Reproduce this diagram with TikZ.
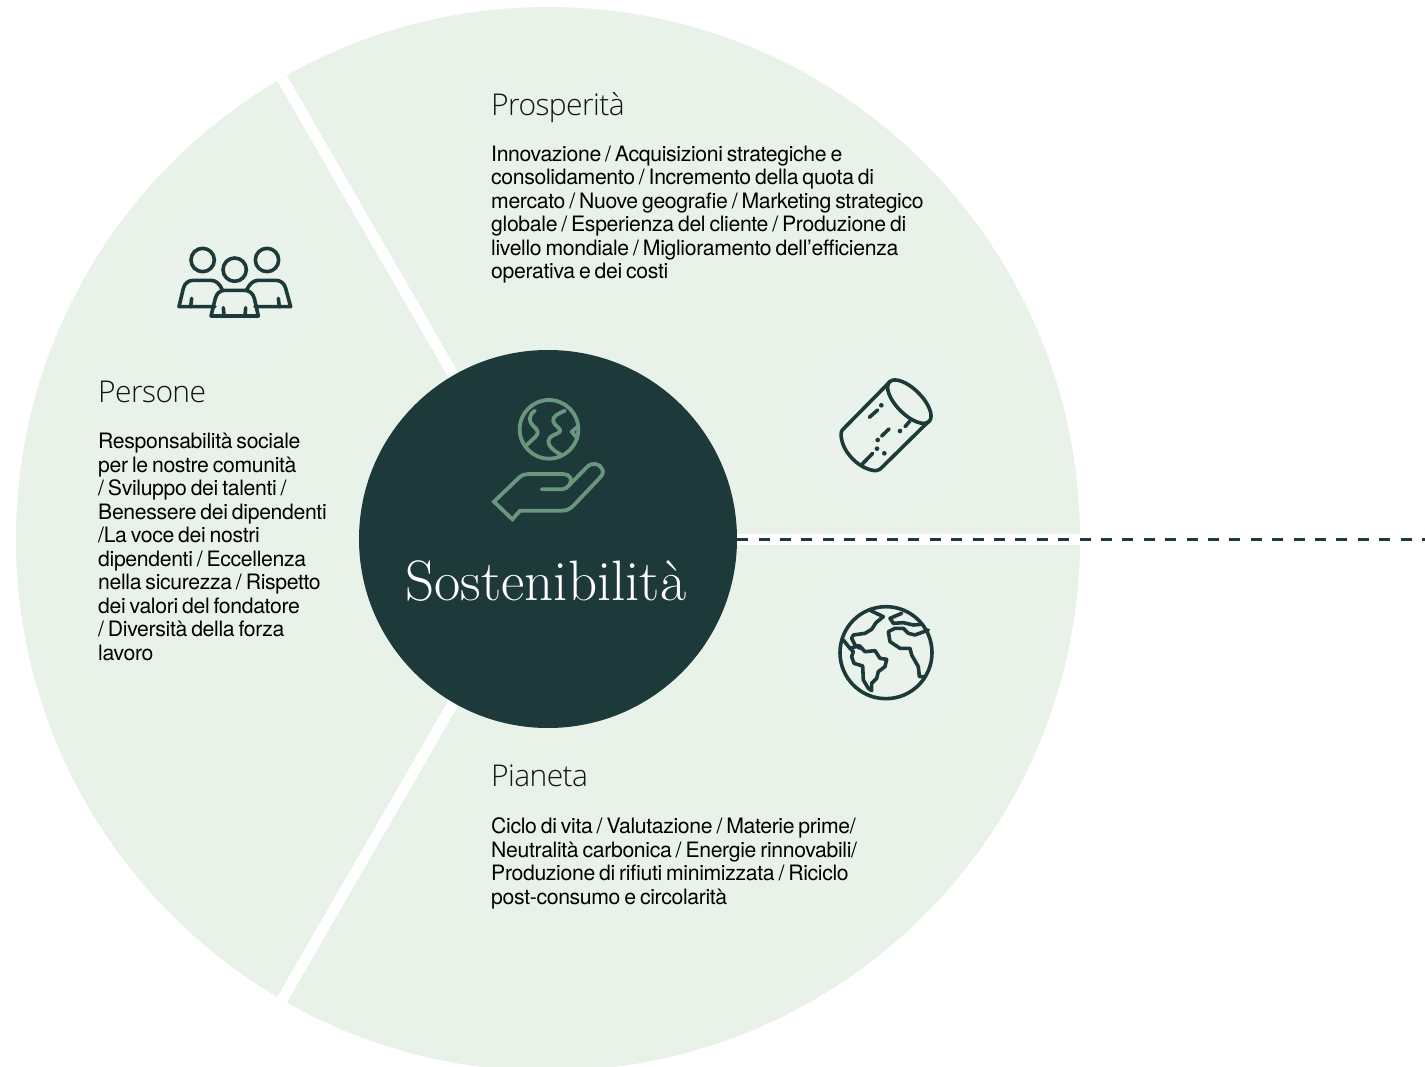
\documentclass[tikz,border=0pt]{standalone}
\usepackage{fontspec}
\setmainfont{TeX Gyre Heros}[WordSpace=0.7,LetterSpace=-1.6]
\newfontfamily\headfont{Open Sans Light}[LetterSpace=-2]
\newfontfamily\corefont{Latin Modern Roman}
\definecolor{wedge}{HTML}{E8F2E8}
\definecolor{halo}{HTML}{E9F3EB}
\definecolor{ink}{HTML}{1D393A}
\definecolor{sage}{HTML}{6A9680}
\tikzset{
  x=1pt,y=-1pt,
  head/.style={anchor=base west,inner sep=0pt,text=ink!40!black,font=\headfont\fontsize{30}{34}\selectfont},
  body/.style={anchor=base west,inner sep=0pt,align=left,text=black,font=\fontsize{21.2}{23.5}\selectfont},
  corecircle/.style={circle,fill=ink,minimum size=378pt,inner sep=0pt},
  corelabel/.style={inner sep=0pt,anchor=base,text=white,font=\corefont\fontsize{57}{60}\selectfont},
  sep/.style={white,line width=11pt},
  dashline/.style={ink,line width=3pt,dash pattern=on 11pt off 10.4pt},
  icon/.style={ink,line width=3.6pt,line join=round,line cap=round},
  handicon/.style={sage,line width=3.8pt,line join=round,line cap=round},
}
\begin{document}
\begin{tikzpicture}
\useasboundingbox (0,0) rectangle (1425,1067);
\clip (0,0) rectangle (1425,1067);
\coordinate (c) at (548,539);
\fill[wedge] (c) circle[radius=532];
\foreach \h in {(235,285),(885,425),(885,652)} \fill[halo] \h circle[radius=74];
\draw[sep] (c) -- ++(-310,-537);
\draw[sep] (c) -- ++(-310,537);
\draw[sep] (c) -- (1095,539);
\node[corecircle] (core) at (c) {};
\coordinate (dashend) at (1425,539);
\draw[dashline] (core.east) -- (dashend);
\node[corelabel] (title) at (546,600.5) {Sostenibilità};

\node[head] (h1) at (491,115.5) {Prosperità};
\node[body,anchor=north west] (b1) at (491,145.5) {Innovazione / Acquisizioni strategiche e\\consolidamento / Incremento della quota di\\mercato / Nuove geografie / Marketing strategico\\globale / Esperienza del cliente / Produzione di\\livello mondiale / Miglioramento dell’efficienza\\operativa e dei costi};
\node[head] (h2) at (98,402.5) {Persone};
\node[body,anchor=north west] (b2) at (98,433) {Responsabilità sociale\\per le nostre comunità\\/ Sviluppo dei talenti /\\Benessere dei dipendenti\\/La voce dei nostri\\dipendenti / Eccellenza\\nella sicurezza / Rispetto\\dei valori del fondatore\\/ Diversità della forza\\lavoro};
\node[head] (h3) at (491,786.5) {Pianeta};
\node[body,anchor=north west] (b3) at (491,817.5) {Ciclo di vita / Valutazione / Materie prime/\\Neutralità carbonica / Energie rinnovabili/\\Produzione di rifiuti minimizzata / Riciclo\\post-consumo e circolarità};

% people icon
\begin{scope}[shift={(140,220)},scale=1/3,icon]
\draw (188,120) circle[radius=35] (381,120) circle[radius=35] (284,149) circle[radius=35];
\draw (225,260) -- (117,260) -- (130,205) .. controls (134,190) and (145,181) .. (160,181) -- (212,181) .. controls (228,181) and (240,192) .. (247,210);
\draw (155,235) -- (152,260);
\draw (345,260) -- (452,260) -- (437,205) .. controls (433,190) and (422,181) .. (407,181) -- (355,181) .. controls (340,181) and (328,192) .. (320,210);
\draw (415,235) -- (418,260);
\draw (213,288) -- (355,288) -- (343,235) .. controls (339,220) and (328,211) .. (313,211) -- (255,211) .. controls (240,211) and (230,220) .. (226,235) -- cycle;
\draw (250,263) -- (252,288) (317,263) -- (315,288);
\end{scope}

% cork icon
\begin{scope}[shift={(800,350)},scale=1/3,icon]
\draw[rotate around={-45:(328,155)}] (328,155) ellipse[x radius=84,y radius=38];
\draw (268,97) -- (127,240) .. controls (118,250) and (125,290) .. (150,318) .. controls (172,345) and (205,362) .. (228,362) .. controls (236,362) and (242,356) .. (246,352) -- (385,215);
\draw (208,202) -- (233,180) (245,258) -- (267,237) (315,230) -- (330,213) (187,342) -- (218,310);
\foreach \p in {(244,166),(233,270),(300,243),(231,296),(253,310)} \fill[ink] \p circle[radius=7];
\end{scope}

% earth icon
\begin{scope}[shift={(800,580)},scale=1/3,icon]
\draw (258,218) circle[radius=138];
\draw (212,92) -- (250,110) -- (228,128) -- (215,148) -- (195,160) -- (160,165) -- (155,175) -- (165,195) -- (180,205);
\draw (130,180) -- (150,205) -- (178,197) -- (195,215) -- (225,212) -- (240,235) -- (260,238) -- (255,260) -- (235,275) -- (230,295) -- (215,310) -- (215,332) -- (205,325) -- (190,300) -- (188,258) -- (162,250) -- (155,230) -- (160,215) -- (150,205);
\draw (375,290) -- (358,290) -- (355,260) -- (335,225) -- (330,205) -- (300,205) -- (270,185) -- (265,155) -- (285,145) -- (310,145) -- (325,160) -- (345,165) -- (385,150);
\draw (305,100) -- (270,115) -- (280,130) -- (310,128) -- (340,135) -- (362,133);
\end{scope}

% hand and globe icon
\begin{scope}[shift={(470,380)},scale=1/3,handicon]
\draw (237,148) circle[radius=88];
\draw (195,92) .. controls (175,105) and (175,125) .. (190,138) .. controls (205,150) and (208,160) .. (195,172) -- (170,195);
\draw (285,92) .. controls (265,100) and (245,110) .. (250,125) .. controls (255,140) and (275,145) .. (270,155) .. controls (260,165) and (235,165) .. (235,185) .. controls (235,200) and (255,215) .. (275,225);
\draw (323,140) -- (305,155) -- (322,175);
\draw[line join=miter] (215,328) -- (275,328) .. controls (285,328) and (292,323) .. (298,315) .. controls (310,300) and (300,282) .. (280,282) -- (175,282) .. controls (165,282) and (155,285) .. (145,295) -- (72,365) -- (127,418) -- (150,392) -- (275,392) .. controls (290,392) and (300,388) .. (315,372) -- (388,295) .. controls (395,288) and (402,280) .. (397,268) .. controls (390,250) and (365,245) .. (350,262) -- (298,315);
\end{scope}
\end{tikzpicture}
\end{document}
